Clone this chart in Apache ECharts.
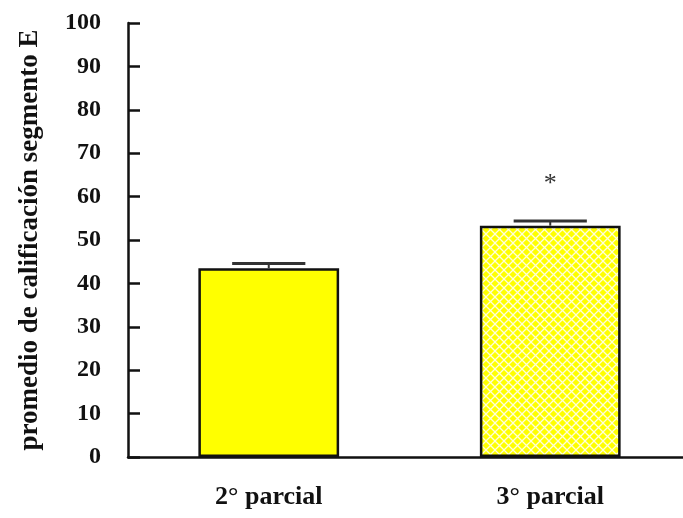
<!DOCTYPE html>
<html>
<head>
<meta charset="utf-8">
<script src="https://cdn.jsdelivr.net/npm/echarts@6/dist/echarts.min.js"></script>
<style>
html,body{margin:0;padding:0;background:#fff;overflow:hidden;}
#chart{width:693px;height:518px;}
</style>
</head>
<body>
<div id="chart"></div>
<script>
const categories = ['2° parcial', '3° parcial'];
const means = [43.5, 53.3];
const errors = [1.1, 1.1];
const marks = ['', '*'];
const markValues = [null, 62.8];
const yTicks = [0, 10, 20, 30, 40, 50, 60, 70, 80, 90, 100];

// crosshatch pattern for second bar
function makePattern() {
  const c = document.createElement('canvas');
  c.width = 9; c.height = 9;
  const g = c.getContext('2d');
  g.fillStyle = '#ffff00';
  g.fillRect(0, 0, 9, 9);
  g.strokeStyle = 'rgba(255,255,255,0.85)';
  g.lineWidth = 1.3;
  g.beginPath();
  g.moveTo(0, 0); g.lineTo(9, 9);
  g.moveTo(9, 0); g.lineTo(0, 9);
  g.stroke();
  return c;
}

const chart = echarts.init(document.getElementById('chart'), null, {renderer: 'canvas'});
const fontFam = '"Liberation Serif", "DejaVu Serif", serif';

const barData = means.map((v, i) => ({
  value: v,
  itemStyle: i === 0
    ? {color: '#ffff00'}
    : {color: {image: makePattern(), repeat: 'repeat'}}
}));

chart.setOption({
  animation: false,
  grid: {left: 128, right: 2, top: 23, bottom: 61},
  xAxis: {
    type: 'category',
    data: categories,
    axisLine: {lineStyle: {color: '#111', width: 2.5}},
    axisTick: {show: false},
    axisLabel: {
      fontFamily: fontFam, fontWeight: 'bold', fontSize: 26, color: '#111', margin: 27
    }
  },
  yAxis: {
    type: 'value',
    min: yTicks[0], max: yTicks[yTicks.length - 1], interval: 10,
    name: 'promedio de calificación segmento E',
    nameLocation: 'middle',
    nameGap: 84,
    nameTextStyle: {fontFamily: fontFam, fontWeight: 'bold', fontSize: 27, color: '#111'},
    axisLine: {show: true, lineStyle: {color: '#111', width: 2.5}},
    axisTick: {show: true, inside: true, length: 12, lineStyle: {color: '#111', width: 2.5}},
    splitLine: {show: false},
    axisLabel: {
      fontFamily: fontFam, fontWeight: 'bold', fontSize: 24, color: '#111', margin: 27
    }
  },
  series: [
    {
      type: 'bar',
      data: barData,
      barWidth: '50%',
      itemStyle: {borderColor: '#111', borderWidth: 2.5}
    },
    {
      type: 'custom',
      data: means.map((v, i) => [i, v, errors[i], markValues[i]]),
      z: 5,
      renderItem: function (params, api) {
        const i = api.value(0);
        const v = api.value(1);
        const e = api.value(2);
        const base = api.coord([i, v]);
        const top = api.coord([i, v + e]);
        const half = api.size([1, 0])[0] * 0.13;
        const children = [
          {type: 'line', shape: {x1: base[0], y1: base[1], x2: top[0], y2: top[1]},
           style: {stroke: '#333', lineWidth: 2}},
          {type: 'line', shape: {x1: top[0] - half, y1: top[1], x2: top[0] + half, y2: top[1]},
           style: {stroke: '#333', lineWidth: 3}}
        ];
        const mv = markValues[params.dataIndex];
        if (marks[params.dataIndex] && mv != null) {
          const p = api.coord([i, mv]);
          children.push({type: 'text', x: p[0], y: p[1],
            style: {text: marks[params.dataIndex], fontFamily: fontFam, fontSize: 26,
                    fill: '#333', align: 'center', verticalAlign: 'middle'}});
        }
        return {type: 'group', children: children};
      }
    }
  ]
});
</script>
</body>
</html>
